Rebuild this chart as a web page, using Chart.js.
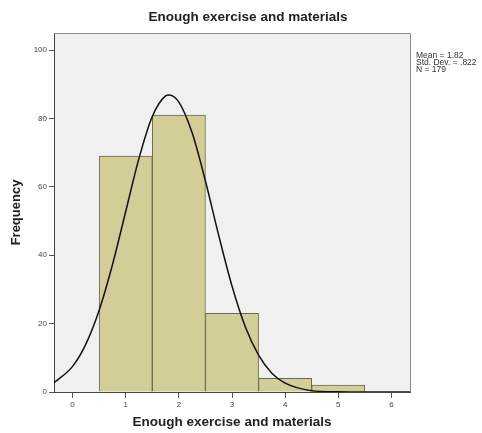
<!DOCTYPE html>
<html>
<head>
<meta charset="utf-8">
<script src="https://cdn.jsdelivr.net/npm/chart.js@4/dist/chart.umd.min.js"></script>
<style>
  html, body { margin: 0; padding: 0; background: #fff; }
  #wrap { width: 482px; height: 433px; }
</style>
</head>
<body>
<div id="wrap"><canvas id="histChart" width="482" height="433"></canvas></div>
<script>
// histogram values
const binCenters = [1, 2, 3, 4, 5];
const binCounts = [69, 81, 23, 4, 2];

// fitted normal curve
const curveX = [-0.35, 0, 0.25, 0.5, 0.75, 1, 1.25, 1.5, 1.75, 1.82, 2, 2.25, 2.5, 2.75, 3, 3.25, 3.5, 3.75, 4, 4.5, 5, 5.5, 6, 6.35];
const curveY = [2.7, 7.5, 14, 23.9, 37.2, 52.8, 68.4, 80.6, 86.6, 86.9, 84.8, 75.8, 61.7, 45.8, 31, 19.1, 10.8, 5.5, 2.6, 0.4, 0.05, 0, 0, 0];

const xTicks = [0, 1, 2, 3, 4, 5, 6];
const yTicks = [0, 20, 40, 60, 80, 100];
const chartTitle = 'Enough exercise and materials';
const statsLines = ['Mean = 1.82', 'Std. Dev. = .822', 'N = 179'];

const FONT = "'Liberation Sans', Arial, sans-serif";

const frame = {
    id: 'frame',
    beforeDraw(chart) {
        const { ctx, chartArea: a } = chart;
        ctx.save();
        ctx.fillStyle = '#f0f0f0';
        ctx.fillRect(a.left, a.top, a.right - a.left, a.bottom - a.top);
        ctx.restore();
    },
    afterDraw(chart) {
        const { ctx, chartArea: a } = chart;
        ctx.save();
        ctx.strokeStyle = '#8c8c8c';
        ctx.lineWidth = 1;
        ctx.beginPath();
        ctx.moveTo(a.left, a.top + 0.5);
        ctx.lineTo(a.right + 0.5, a.top + 0.5);
        ctx.lineTo(a.right + 0.5, a.bottom);
        ctx.stroke();

        // chart title
        ctx.fillStyle = '#222';
        ctx.font = 'bold 13.5px ' + FONT;
        ctx.textAlign = 'center';
        ctx.textBaseline = 'alphabetic';
        ctx.fillText(chartTitle, 248, 21);

        // stats box at right
        ctx.fillStyle = '#333';
        ctx.font = '8.5px ' + FONT;
        ctx.textAlign = 'left';
        ctx.textBaseline = 'middle';
        statsLines.forEach((t, i) => ctx.fillText(t, a.right + 6, 55.5 + i * 7));
        ctx.restore();
    }
};

new Chart(document.getElementById('histChart'), {
    type: 'bar',
    data: {
        datasets: [{
            type: 'line',
            data: curveX.map((x, i) => ({ x: x, y: curveY[i] })),
            borderColor: '#111',
            borderWidth: 1.5,
            pointRadius: 0,
            tension: 0.4,
            cubicInterpolationMode: 'monotone',
            fill: false,
            order: 0
        }, {
            data: binCenters.map((x, i) => ({ x: x, y: binCounts[i] })),
            backgroundColor: '#d3ce98',
            borderColor: '#6e6a48',
            borderWidth: 1,
            barPercentage: 1,
            categoryPercentage: 1,
            order: 1
        }]
    },
    options: {
        responsive: false,
        animation: false,
        layout: { padding: { left: 0, right: 72, top: 33, bottom: 0 } },
        plugins: {
            legend: { display: false },
            tooltip: { enabled: false },
            title: { display: false }
        },
        scales: {
            x: {
                type: 'linear',
                min: -0.35,
                max: 6.35,
                offset: false,
                afterBuildTicks: s => { s.ticks = xTicks.map(v => ({ value: v })); },
                afterFit: s => { s.height = 41; },
                grid: { display: true, drawOnChartArea: false, drawTicks: true, tickLength: 6, color: '#555', offset: false },
                border: { display: true, color: '#444', width: 1 },
                ticks: { color: '#444', font: { family: FONT, size: 8 }, padding: 2, maxRotation: 0 },
                title: {
                    display: true,
                    text: chartTitle,
                    color: '#222',
                    font: { family: FONT, size: 13.5, weight: 'bold' },
                    padding: { top: 0, bottom: 3 }
                }
            },
            y: {
                min: 0,
                max: 105,
                afterBuildTicks: s => { s.ticks = yTicks.map(v => ({ value: v })); },
                afterFit: s => { s.width = 54; },
                grid: { display: true, drawOnChartArea: false, drawTicks: true, tickLength: 5, color: '#555' },
                border: { display: true, color: '#444', width: 1 },
                ticks: { color: '#444', font: { family: FONT, size: 8 }, padding: 2 },
                title: {
                    display: true,
                    text: 'Frequency',
                    color: '#222',
                    font: { family: FONT, size: 13, weight: 'bold' },
                    padding: { top: 9, bottom: 0 }
                }
            }
        }
    },
    plugins: [frame]
});
</script>
</body>
</html>
